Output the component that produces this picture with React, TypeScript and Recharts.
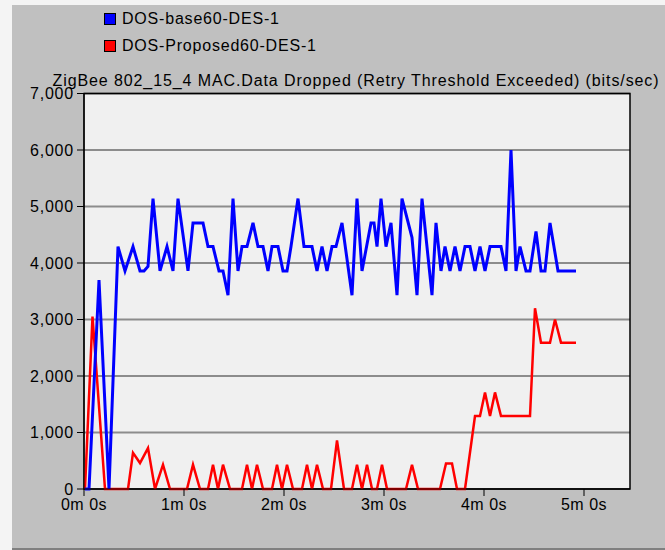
import { LineChart, Line, XAxis, YAxis, CartesianGrid, ReferenceArea } from "recharts";

// time in minutes, values in bits/sec
const blueTimes = [
  0.01, 0.05, 0.15, 0.25, 0.34, 0.41, 0.49, 0.56, 0.6, 0.64, 0.69, 0.76, 0.83, 0.89, 0.94,
  1.04, 1.09, 1.19, 1.24, 1.29, 1.35, 1.39, 1.44, 1.49, 1.54, 1.58, 1.63, 1.69, 1.74, 1.79,
  1.84, 1.88, 1.94, 1.99, 2.03, 2.07, 2.14, 2.2, 2.28, 2.33, 2.38, 2.43, 2.48, 2.52, 2.58,
  2.68, 2.73, 2.78, 2.87, 2.9, 2.93, 2.97, 3.02, 3.07, 3.13, 3.18, 3.28, 3.33, 3.38, 3.48,
  3.52, 3.57, 3.61, 3.66, 3.71, 3.76, 3.81, 3.86, 3.91, 3.96, 4.01, 4.06, 4.17, 4.22, 4.27,
  4.32, 4.36, 4.42, 4.46, 4.52, 4.57, 4.61, 4.66, 4.74, 4.92,
];
const blueValues = [
  0, 0, 3700, 0, 4290, 3860, 4290, 3860, 3860, 3940, 5140, 3860, 4290, 3860, 5140,
  3860, 4710, 4710, 4290, 4290, 3860, 3860, 3430, 5140, 3860, 4290, 4290, 4710, 4290, 4290,
  3860, 4290, 4290, 3860, 3860, 4290, 5140, 4290, 4290, 3860, 4290, 3860, 4290, 4290, 4710,
  3430, 5140, 3860, 4710, 4710, 4290, 5140, 4290, 4710, 3430, 5140, 4450, 3430, 5140, 3430,
  4710, 3860, 4290, 3860, 4290, 3860, 4290, 4290, 3860, 4290, 3860, 4290, 4290, 3860, 6000,
  3860, 4290, 3860, 3860, 4560, 3860, 3860, 4710, 3860, 3860,
];

const redTimes = [
  0.01, 0.085, 0.21, 0.44, 0.49, 0.56, 0.64, 0.71, 0.79, 0.86, 1.03, 1.09, 1.16, 1.24, 1.29,
  1.34, 1.39, 1.46, 1.58, 1.63, 1.68, 1.73, 1.79, 1.88, 1.93, 1.98, 2.03, 2.09, 2.18, 2.23,
  2.28, 2.33, 2.39, 2.47, 2.53, 2.6, 2.68, 2.73, 2.78, 2.83, 2.88, 2.93, 2.98, 3.03, 3.22,
  3.28, 3.34, 3.56, 3.62, 3.68, 3.73, 3.81, 3.91, 3.96, 4.01, 4.06, 4.11, 4.17, 4.46, 4.51,
  4.57, 4.66, 4.71, 4.77, 4.92,
];
const redValues = [
  0, 3050, 0, 0, 640, 460, 725, 0, 430, 0, 0, 430, 0, 0, 430,
  0, 430, 0, 0, 430, 0, 430, 0, 0, 430, 0, 430, 0, 0, 430,
  0, 430, 0, 0, 860, 0, 0, 430, 0, 430, 0, 0, 430, 0, 0,
  430, 0, 0, 450, 450, 0, 0, 1290, 1290, 1710, 1290, 1710, 1290, 1290, 3200,
  2590, 2590, 3000, 2590, 2590,
];

const xTicks = [0, 1, 2, 3, 4, 5];
const yTicks = [0, 1000, 2000, 3000, 4000, 5000, 6000, 7000];

const seriesNames = ["DOS-base60-DES-1", "DOS-Proposed60-DES-1"];
const seriesColors = ["#0000ff", "#ff0000"];

const title = "ZigBee 802_15_4 MAC.Data Dropped (Retry Threshold Exceeded) (bits/sec)";

const font = "'Liberation Sans', Arial, sans-serif";

const blueData = blueTimes.map((t, i) => ({ t, v: blueValues[i] }));
const redData = redTimes.map((t, i) => ({ t, v: redValues[i] }));

export default function App() {
  return (
    <div
      style={{
        position: "absolute",
        left: 0,
        top: 0,
        width: 665,
        height: 550,
        background: "#f4f4f4",
        fontFamily: font,
        overflow: "hidden",
      }}
    >
      <div
        style={{
          position: "absolute",
          left: 12,
          top: 5,
          width: 653,
          height: 543,
          background: "#c0c0c0",
          borderBottom: "2px solid #808080",
        }}
      />
      <div style={{ position: "absolute", left: 0, top: 0 }}>
        <LineChart
          width={665}
          height={550}
          margin={{ top: 93.5, right: 35, left: 0, bottom: 31 }}
        >
          <CartesianGrid
            horizontal
            vertical={false}
            fill="#f0f0f0"
            stroke="#8c8c8c"
            strokeWidth={2}
          />
          <XAxis
            type="number"
            dataKey="t"
            domain={[0, 5.46]}
            ticks={xTicks}
            tickFormatter={(v) => `${v}m 0s`}
            height={30}
            tickSize={7}
            tickMargin={3}
            stroke="#000"
            tick={{ fill: "#000", fontSize: 16, fontFamily: font, letterSpacing: 0.5 }}
            allowDataOverflow
          />
          <YAxis
            type="number"
            domain={[0, 7000]}
            ticks={yTicks}
            tickFormatter={(v) => v.toLocaleString("en-US")}
            width={84}
            tickSize={7}
            tickMargin={3}
            stroke="#000"
            tick={{ fill: "#000", fontSize: 16, fontFamily: font, letterSpacing: 0.8 }}
          />
          <ReferenceArea
            x1={0}
            x2={5.46}
            y1={0}
            y2={7000}
            fill="none"
            stroke="#000"
            strokeWidth={1.5}
            ifOverflow="visible"
          />
          <Line
            data={redData}
            dataKey="v"
            stroke={seriesColors[1]}
            strokeWidth={2.5}
            dot={false}
            isAnimationActive={false}
          />
          <Line
            data={blueData}
            dataKey="v"
            stroke={seriesColors[0]}
            strokeWidth={3}
            dot={false}
            isAnimationActive={false}
          />
        </LineChart>
      </div>
      {seriesNames.map((name, i) => (
        <div
          key={name}
          style={{
            position: "absolute",
            left: 104,
            top: 10 + i * 27,
            display: "flex",
            alignItems: "center",
            fontSize: 16,
            color: "#000",
            lineHeight: "18px",
            letterSpacing: 0.8,
          }}
        >
          <span
            style={{
              width: 10,
              height: 10,
              background: seriesColors[i],
              border: "1px solid #000",
              marginRight: 6,
              display: "inline-block",
            }}
          />
          {name}
        </div>
      ))}
      <div
        style={{
          position: "absolute",
          left: 36,
          top: 72,
          width: 640,
          textAlign: "center",
          fontSize: 16,
          color: "#000",
          whiteSpace: "nowrap",
          lineHeight: "18px",
          letterSpacing: 0.9,
        }}
      >
        {title}
      </div>
    </div>
  );
}
